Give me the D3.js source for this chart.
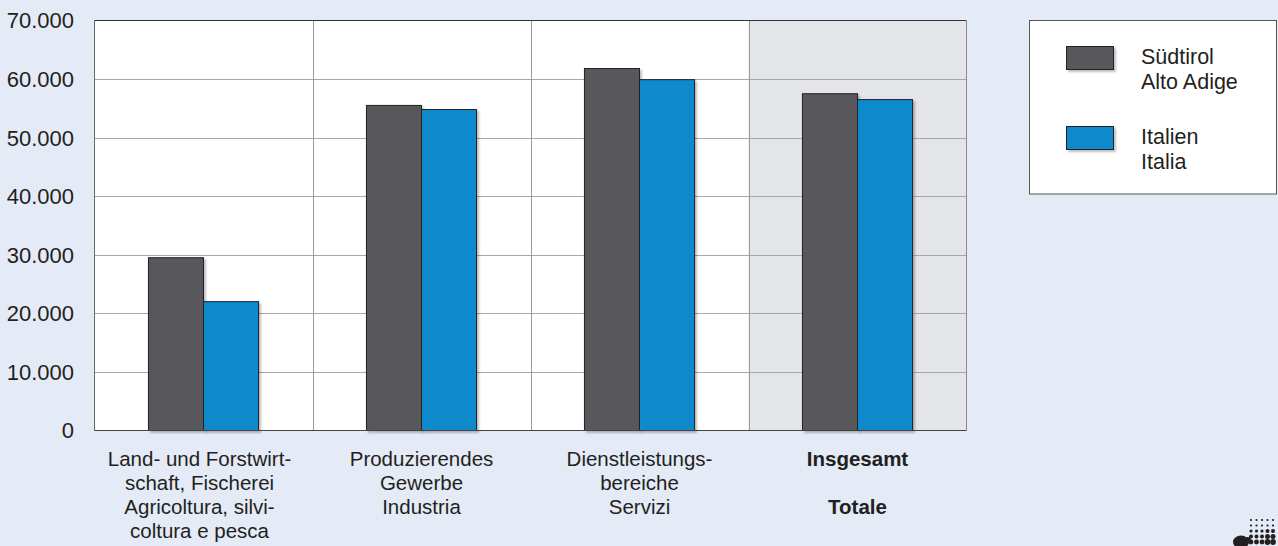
<!DOCTYPE html>
<html>
<head>
<meta charset="utf-8">
<script src="https://cdn.jsdelivr.net/npm/d3@7"></script>
<style>
  html, body { margin: 0; padding: 0; background: #e4eaf6; }
  svg { display: block; font-family: "Liberation Sans", Arial, sans-serif; }
</style>
</head>
<body>
<svg id="chart" width="1278" height="546"></svg>
<script>
// Categories (each label line is a separate entry)
const categories = ["agri", "ind", "serv", "tot"];
const categoryLines = [
  ["Land- und Forstwirt-", "schaft, Fischerei", "Agricoltura, silvi-", "coltura e pesca"],
  ["Produzierendes", "Gewerbe", "Industria"],
  ["Dienstleistungs-", "bereiche", "Servizi"],
  ["Insgesamt", "", "Totale"]
];
const seriesNames = [["Südtirol", "Alto Adige"], ["Italien", "Italia"]];
const suedtirol = [29500, 55500, 61800, 57500];
const italien = [22000, 54800, 59900, 56500];
const yTicks = [0, 10000, 20000, 30000, 40000, 50000, 60000, 70000];
const colors = ["#58595b", "#0f89cc"];

const svg = d3.select("#chart");
const margin = { left: 94.5, right: 966.5, top: 20.5, bottom: 430.5 };

const x = d3.scaleBand().domain(categories).range([margin.left, margin.right]).paddingInner(0).paddingOuter(0);
const y = d3.scaleLinear().domain([0, 70000]).range([margin.bottom, margin.top]);
const fmt = v => d3.format(",")(v).replace(/,/g, ".");

const defs = svg.append("defs");
const f = defs.append("filter").attr("id", "shadow").attr("x", "-10%").attr("y", "-10%").attr("width", "130%").attr("height", "130%");
f.append("feDropShadow").attr("dx", 2).attr("dy", 2).attr("stdDeviation", 1.2).attr("flood-color", "#000").attr("flood-opacity", 0.25);

// Plot background
svg.append("rect").attr("x", margin.left).attr("y", margin.top)
  .attr("width", margin.right - margin.left).attr("height", margin.bottom - margin.top)
  .attr("fill", "#ffffff");
// Shaded "total" column
svg.append("rect").attr("x", x("tot")).attr("y", margin.top)
  .attr("width", x.bandwidth()).attr("height", margin.bottom - margin.top)
  .attr("fill", "#e4e5e8");

// Horizontal gridlines
svg.append("g").selectAll("line").data(yTicks.filter(d => d > 0 && d < 70000)).join("line")
  .attr("x1", margin.left).attr("x2", margin.right)
  .attr("y1", d => Math.round(y(d)) + 0.5).attr("y2", d => Math.round(y(d)) + 0.5)
  .attr("stroke", "#a8a8a8").attr("stroke-width", 1);

// Vertical dividers between categories
svg.append("g").selectAll("line").data(categories.slice(1)).join("line")
  .attr("x1", d => Math.round(x(d)) + 0.5).attr("x2", d => Math.round(x(d)) + 0.5)
  .attr("y1", margin.top).attr("y2", margin.bottom)
  .attr("stroke", "#9a9a9a").attr("stroke-width", 1);

// Bars
const inner = d3.scaleBand().domain([0, 1]).range([0, x.bandwidth()]).paddingOuter(0.98).paddingInner(0);
const barData = [];
categories.forEach((c, i) => {
  barData.push({ c, s: 0, v: suedtirol[i] });
  barData.push({ c, s: 1, v: italien[i] });
});
svg.append("g").selectAll("rect").data(barData).join("rect")
  .attr("x", d => x(d.c) + inner(d.s))
  .attr("y", d => y(d.v))
  .attr("width", inner.bandwidth())
  .attr("height", d => y(0) - y(d.v))
  .attr("fill", d => colors[d.s])
  .attr("stroke", "#222")
  .attr("stroke-width", 1)
  .attr("filter", "url(#shadow)");

// Frame: top, left, bottom darker; right lighter
svg.append("line").attr("x1", margin.left).attr("x2", margin.right).attr("y1", margin.top).attr("y2", margin.top).attr("stroke", "#333");
svg.append("line").attr("x1", margin.right).attr("x2", margin.right).attr("y1", margin.top).attr("y2", margin.bottom).attr("stroke", "#8a8a8a");
svg.append("line").attr("x1", margin.left).attr("x2", margin.left).attr("y1", margin.top).attr("y2", margin.bottom).attr("stroke", "#666");
svg.append("line").attr("x1", margin.left).attr("x2", margin.right).attr("y1", margin.bottom).attr("y2", margin.bottom).attr("stroke", "#444");

// Y axis labels
const yAxis = d3.axisLeft(y).tickValues(yTicks).tickFormat(fmt).tickSize(0).tickPadding(20.5);
const yg = svg.append("g").attr("transform", `translate(${margin.left},0)`).call(yAxis);
yg.select(".domain").remove();
yg.attr("font-size", null).attr("font-family", null);
yg.selectAll("text").attr("font-size", 22).attr("fill", "#231f20").attr("dy", "0.34em");

// Category labels (the first, widest block sits slightly left of its column centre)
const catG = svg.append("g");
categories.forEach((c, i) => {
  const cx = x(c) + x.bandwidth() / 2 - (i === 0 ? 4 : 0);
  const bold = c === "tot";
  const t = catG.append("text").attr("x", cx).attr("y", 466)
    .attr("text-anchor", "middle").attr("font-size", 20.5)
    .attr("font-weight", bold ? "bold" : "normal").attr("fill", "#231f20");
  categoryLines[i].forEach((line, j) => {
    t.append("tspan").attr("x", cx).attr("y", 466 + j * 24).text(line);
  });
});

// Legend
const lg = svg.append("g");
lg.append("rect").attr("x", 1029.5).attr("y", 20.5).attr("width", 247).attr("height", 173.5)
  .attr("fill", "#fff").attr("stroke", "#555");
seriesNames.forEach((names, i) => {
  const yy = 46 + i * 80;
  lg.append("rect").attr("x", 1066.5).attr("y", yy + 0.5).attr("width", 47).attr("height", 23)
    .attr("fill", colors[i]).attr("stroke", "#222").attr("filter", "url(#shadow)");
  const t = lg.append("text").attr("font-size", 21.5).attr("fill", "#231f20");
  names.forEach((n, j) => t.append("tspan").attr("x", 1141).attr("y", yy + 18 + j * 24.5).text(n));
});

// Halftone mark in the corner
const dots = svg.append("g").attr("fill", "#231f20");
const dotCols = [1251, 1256.5, 1262, 1267.5, 1273];
const dotRows = [520, 525.5, 531, 536.5, 542];
dotRows.forEach((dy, r) => dotCols.forEach((dx, c) => {
  const rad = 1.1 + Math.max(0, r - 1) * 0.45 + (c > 2 && r > 1 ? 0.5 : 0);
  dots.append("circle").attr("cx", dx).attr("cy", dy).attr("r", Math.min(rad, 2.9));
}));
dots.append("ellipse").attr("cx", 1241).attr("cy", 542).attr("rx", 8).attr("ry", 6.5);
dots.append("circle").attr("cx", 1248).attr("cy", 540).attr("r", 3);
</script>
</body>
</html>
